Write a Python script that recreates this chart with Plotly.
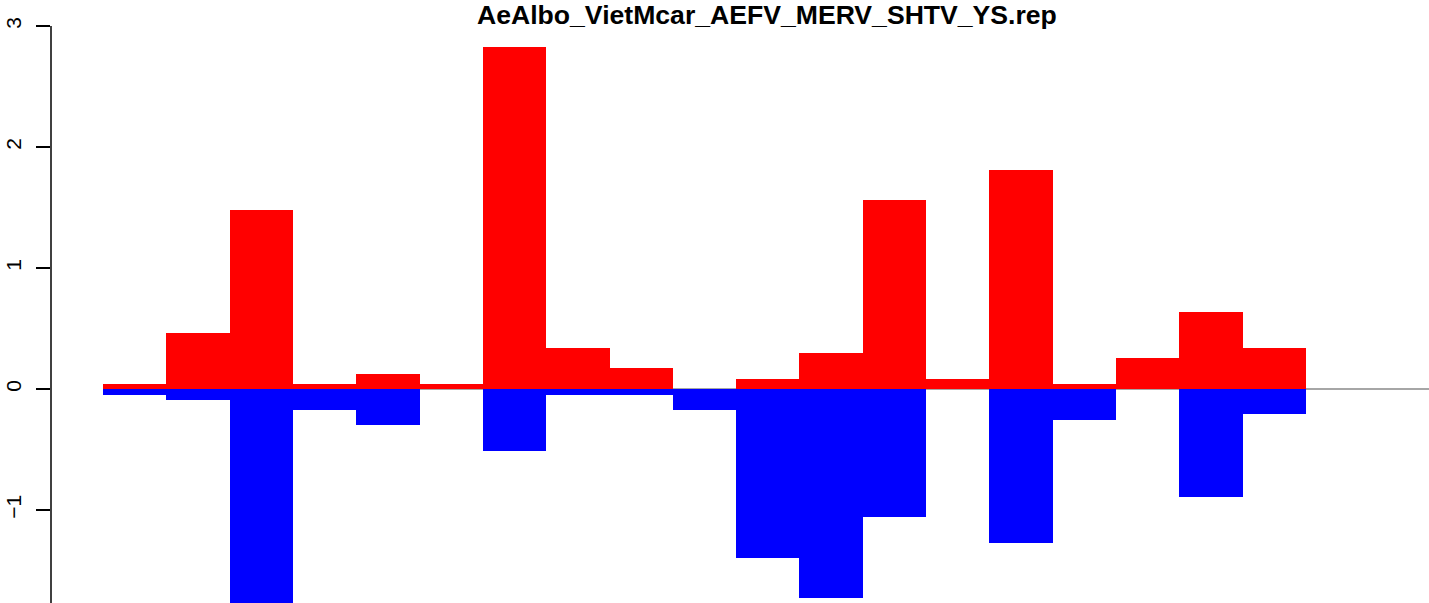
import plotly.graph_objects as go

title_text = "AeAlbo_VietMcar_AEFV_MERV_SHTV_YS.rep"
positions = list(range(1, 20))
red_values = [0.04, 0.46, 1.48, 0.04, 0.12, 0.04, 2.83, 0.34, 0.17, 0.0,
              0.08, 0.30, 1.56, 0.08, 1.81, 0.04, 0.26, 0.64, 0.34]
blue_values = [-0.05, -0.09, -1.90, -0.17, -0.30, 0.0, -0.51, -0.05, -0.05, -0.17,
               -1.40, -1.73, -1.06, 0.0, -1.27, -0.26, 0.0, -0.89, -0.21]
y_ticks = [-1, 0, 1, 2, 3]

W, H = 1429, 603
left_px = 51
bar_left_px, bar_right_px = 103, 1306
unit = (bar_right_px - bar_left_px) / len(positions)
x_lo = (left_px - bar_left_px) / unit
x_hi = (W - bar_left_px) / unit
zero_px = 389
yunit = 121.0
y_hi = zero_px / yunit
y_lo = -(H - zero_px) / yunit

xs = [p - 0.5 for p in positions]

fig = go.Figure()
fig.add_trace(go.Bar(x=xs, y=red_values, width=1.0, marker=dict(color="#FF0000", line=dict(width=0)),
                     showlegend=False, hoverinfo="skip"))
fig.add_trace(go.Bar(x=xs, y=blue_values, width=1.0, marker=dict(color="#0000FF", line=dict(width=0)),
                     showlegend=False, hoverinfo="skip"))

# zero reference line (drawn beneath the bars)
fig.add_shape(type="line", xref="x", yref="y", x0=0, x1=21, y0=0, y1=0,
              line=dict(color="#888888", width=1.5), layer="below")
# y axis line from bottom to the top tick
fig.add_shape(type="line", xref="paper", yref="y", x0=0, x1=0, y0=y_lo - 0.05, y1=max(y_ticks),
              line=dict(color="black", width=1.5), layer="above")

fig.add_annotation(text="<b>" + title_text + "</b>", xref="paper", yref="paper",
                   x=(767 - left_px) / (W - left_px), y=1, xanchor="center", yanchor="top",
                   showarrow=False, font=dict(family="Liberation Sans, Arial, sans-serif", size=26.6, color="black"),
                   yshift=2)

fig.update_layout(
    width=W, height=H, autosize=False,
    margin=dict(l=left_px, r=0, t=0, b=0, pad=0),
    paper_bgcolor="white", plot_bgcolor="white",
    barmode="overlay", bargap=0,
    xaxis=dict(range=[x_lo, x_hi], visible=False, showgrid=False, zeroline=False),
    yaxis=dict(range=[y_lo, y_hi], tickvals=y_ticks, ticktext=[str(v) if v >= 0 else "\u22121" for v in y_ticks],
               ticks="outside", ticklen=14, tickwidth=1.5, tickcolor="black",
               tickangle=-90, showgrid=False, zeroline=False, showline=False,
               ticklabelstandoff=7,
               tickfont=dict(family="Liberation Sans, Arial, sans-serif", size=21, color="black")),
)

fig.write_html("out.html", config={"displayModeBar": False, "staticPlot": True},
               post_script="document.body.style.margin='0';document.body.style.overflow='hidden';")
